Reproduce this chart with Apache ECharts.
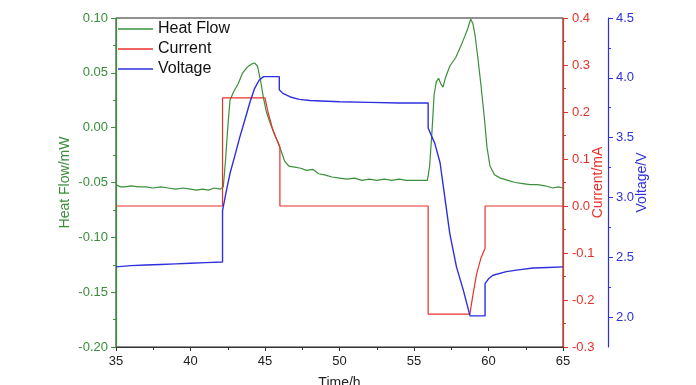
<!DOCTYPE html>
<html>
<head>
<meta charset="utf-8">
<script src="https://cdn.jsdelivr.net/npm/echarts@6/dist/echarts.min.js"></script>
<style>html,body{margin:0;padding:0;background:#fff}#c{width:696px;height:385px}</style>
</head>
<body>
<div id="c"></div>
<script>
// Data
var heatFlow = [
[35.0,-0.052],[35.3,-0.054],[35.6,-0.054],[36.0,-0.053],[36.5,-0.054],[37.0,-0.054],[37.5,-0.055],[38.0,-0.054],[38.5,-0.055],[39.0,-0.056],[39.5,-0.055],[40.0,-0.056],[40.4,-0.057],[40.8,-0.056],[41.2,-0.057],[41.6,-0.055],[42.0,-0.056],[42.2,-0.054],[42.35,-0.03],[42.5,0.0],[42.65,0.025],[42.9,0.033],[43.2,0.040],[43.5,0.050],[43.8,0.055],[44.1,0.058],[44.3,0.059],[44.5,0.056],[44.7,0.043],[44.9,0.027],[45.1,0.014],[45.35,0.004],[45.6,-0.005],[45.9,-0.014],[46.1,-0.022],[46.3,-0.030],[46.6,-0.035],[47.0,-0.036],[47.4,-0.037],[47.8,-0.039],[48.2,-0.038],[48.6,-0.042],[49.0,-0.043],[49.5,-0.045],[50.0,-0.046],[50.5,-0.047],[51.0,-0.046],[51.5,-0.048],[52.0,-0.047],[52.5,-0.048],[53.0,-0.047],[53.5,-0.048],[54.0,-0.047],[54.5,-0.048],[55.0,-0.048],[55.5,-0.048],[55.9,-0.048],[56.05,-0.035],[56.2,-0.005],[56.35,0.030],[56.5,0.042],[56.65,0.045],[56.8,0.040],[56.95,0.037],[57.1,0.045],[57.4,0.056],[57.8,0.064],[58.1,0.073],[58.4,0.083],[58.6,0.090],[58.8,0.099],[58.95,0.095],[59.1,0.084],[59.3,0.062],[59.5,0.038],[59.7,0.012],[59.9,-0.018],[60.1,-0.035],[60.4,-0.043],[60.8,-0.046],[61.3,-0.048],[61.8,-0.050],[62.3,-0.051],[62.8,-0.052],[63.3,-0.052],[63.8,-0.053],[64.3,-0.055],[64.7,-0.054],[65.0,-0.055]
];
var current = [
[35,0],[42.15,0],[42.15,0.23],[45.0,0.23],[45.2,0.20],[45.5,0.165],[45.8,0.14],[46.0,0.125],[46.0,0],[55.95,0],[55.95,-0.23],[58.75,-0.23],[58.95,-0.19],[59.2,-0.145],[59.5,-0.11],[59.77,-0.09],[59.77,0],[65,0]
];
var voltage = [
[35,2.42],[36,2.43],[37,2.435],[38,2.44],[39,2.445],[40,2.45],[41,2.455],[42.15,2.46],[42.15,2.89],[42.4,3.05],[42.65,3.20],[43.0,3.36],[43.3,3.50],[43.7,3.67],[44.0,3.80],[44.3,3.91],[44.6,3.98],[44.9,4.01],[45.96,4.01],[45.96,3.90],[46.2,3.87],[46.7,3.84],[47.3,3.82],[48.0,3.81],[50,3.80],[52,3.795],[54,3.79],[55.95,3.79],[55.95,3.58],[56.4,3.45],[56.75,3.29],[56.97,3.09],[57.4,2.70],[57.85,2.42],[58.3,2.23],[58.76,2.01],[59.77,2.01],[59.77,2.28],[60.0,2.32],[60.3,2.35],[61.2,2.38],[62,2.395],[63,2.41],[64,2.415],[65,2.42]
];
var voltageTicks = [2.0,2.5,3.0,3.5,4.0,4.5];
var voltageMinorTicks = [2.25,2.75,3.25,3.75,4.25];

var GREEN = '#3a8f3a', RED = '#e8302a', BLUE = '#2f2fdc';
var FONT = 'Liberation Sans, Arial, sans-serif';
var chart = echarts.init(document.getElementById('c'), null, {renderer:'canvas'});
chart.setOption({
  animation:false,
  grid:{left:116,right:133,top:18,bottom:38,outerBoundsMode:'none',containLabel:false,show:true,borderColor:'#222',borderWidth:1,backgroundColor:'transparent'},
  legend:{left:113,top:16,orient:'vertical',icon:'rect',itemWidth:35,itemHeight:1.5,itemGap:4,
    textStyle:{fontFamily:FONT,fontSize:16,color:'#111'},
    data:['Heat Flow','Current','Voltage']},
  xAxis:{type:'value',min:35,max:65,interval:5,
    name:'Time/h',nameLocation:'middle',nameGap:29,nameMoveOverlap:false,nameTextStyle:{fontFamily:FONT,fontSize:14,color:'#222'},
    axisLine:{onZero:false,lineStyle:{color:'#333'}},axisTick:{length:4,lineStyle:{color:'#333'}},
    minorTick:{show:true,splitNumber:2,length:3,lineStyle:{color:'#333'}},
    splitLine:{show:false},
    axisLabel:{fontFamily:FONT,fontSize:13,color:'#222',margin:8}},
  yAxis:[
    {type:'value',position:'left',min:-0.2,max:0.1,interval:0.05,
     name:'Heat Flow/mW',nameLocation:'middle',nameRotate:90,nameGap:44,nameMoveOverlap:false,
     nameTextStyle:{fontFamily:FONT,fontSize:14,color:GREEN},
     axisLine:{show:true,onZero:false,lineStyle:{color:GREEN,width:1.2}},axisTick:{length:5,lineStyle:{color:GREEN}},
     minorTick:{show:true,splitNumber:2,length:3,lineStyle:{color:GREEN}},
     splitLine:{show:false},
     axisLabel:{fontFamily:FONT,fontSize:13,color:GREEN,margin:8,formatter:function(v){return v.toFixed(2);}}},
    {type:'value',position:'right',min:-0.3,max:0.4,interval:0.1,
     name:'Current/mA',nameLocation:'middle',nameRotate:90,nameGap:28,nameMoveOverlap:false,
     nameTextStyle:{fontFamily:FONT,fontSize:14,color:RED},
     axisLine:{show:true,onZero:false,lineStyle:{color:RED,width:1.2}},axisTick:{length:5,lineStyle:{color:RED}},
     minorTick:{show:true,splitNumber:2,length:3,lineStyle:{color:RED}},
     splitLine:{show:false},
     axisLabel:{fontFamily:FONT,fontSize:13,color:RED,margin:9,formatter:function(v){return v.toFixed(1);}}},
    {type:'value',position:'right',offset:45,min:1.75,max:4.5,interval:0.25,
     name:'Voltage/V',nameLocation:'middle',nameRotate:90,nameGap:27,nameMoveOverlap:false,
     nameTextStyle:{fontFamily:FONT,fontSize:14,color:BLUE},
     axisLine:{show:true,onZero:false,lineStyle:{color:BLUE,width:1.2}},
     axisTick:{length:5,customValues:voltageTicks,lineStyle:{color:BLUE}},
     splitLine:{show:false},
     axisLabel:{fontFamily:FONT,fontSize:13,color:BLUE,margin:8,
       formatter:function(v){return voltageTicks.indexOf(Math.round(v*100)/100)>=0 ? v.toFixed(1) : '';}}},
    {type:'value',position:'right',offset:45,min:1.75,max:4.5,interval:0.25,
     axisLine:{show:false},
     axisTick:{show:true,length:3,customValues:voltageMinorTicks,lineStyle:{color:BLUE}},
     splitLine:{show:false},
     axisLabel:{show:false}}
  ],
  series:[
    {name:'Heat Flow',type:'line',yAxisIndex:0,data:heatFlow,symbol:'none',lineStyle:{color:GREEN,width:1.2},itemStyle:{color:GREEN}},
    {name:'Current',type:'line',yAxisIndex:1,data:current,symbol:'none',lineStyle:{color:RED,width:1.2},itemStyle:{color:RED}},
    {name:'Voltage',type:'line',yAxisIndex:2,data:voltage,symbol:'none',lineStyle:{color:BLUE,width:1.4},itemStyle:{color:BLUE}}
  ]
});
</script>
</body>
</html>
